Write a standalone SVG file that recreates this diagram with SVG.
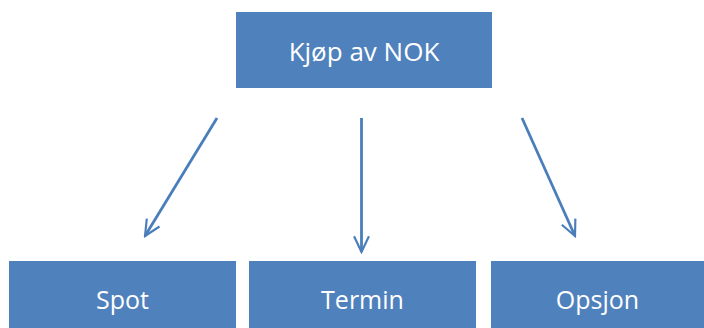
<svg xmlns="http://www.w3.org/2000/svg" width="704" height="328" viewBox="0 0 704 328">
<style>
.box{fill:#4f81bd}
.lbl{font-family:"Open Sans","Liberation Sans",sans-serif;fill:#ffffff;text-anchor:middle}
.con{stroke:#4a7ebb;stroke-width:2.8;fill:none;marker-end:url(#arr)}
</style>
<defs>
<marker id="arr" viewBox="0 0 10 10" refX="9" refY="5" markerWidth="7" markerHeight="7" markerUnits="strokeWidth" orient="auto">
<path d="M1,1.2 L9,5 L1,8.8" fill="none" stroke="#4a7ebb" stroke-width="1.1"/>
</marker>
</defs>
<rect width="704" height="328" fill="#ffffff"/>
<g id="node-top"><rect class="box" x="236" y="12" width="256" height="76"/><text class="lbl" x="364" y="61" font-size="26">Kjøp av NOK</text></g>
<g id="node-spot"><rect class="box" x="9" y="261" width="227" height="67"/><text class="lbl" x="122.5" y="309" font-size="25">Spot</text></g>
<g id="node-termin"><rect class="box" x="249" y="261" width="227" height="67"/><text class="lbl" x="362.5" y="309" font-size="25">Termin</text></g>
<g id="node-opsjon"><rect class="box" x="491" y="261" width="213" height="67"/><text class="lbl" x="597.5" y="309" font-size="25">Opsjon</text></g>
<g id="connectors">
<line class="con" x1="217" y1="118" x2="145" y2="236"/>
<line class="con" x1="361.5" y1="118" x2="361.5" y2="252"/>
<line class="con" x1="522" y1="118" x2="575" y2="236"/>
</g>
</svg>
